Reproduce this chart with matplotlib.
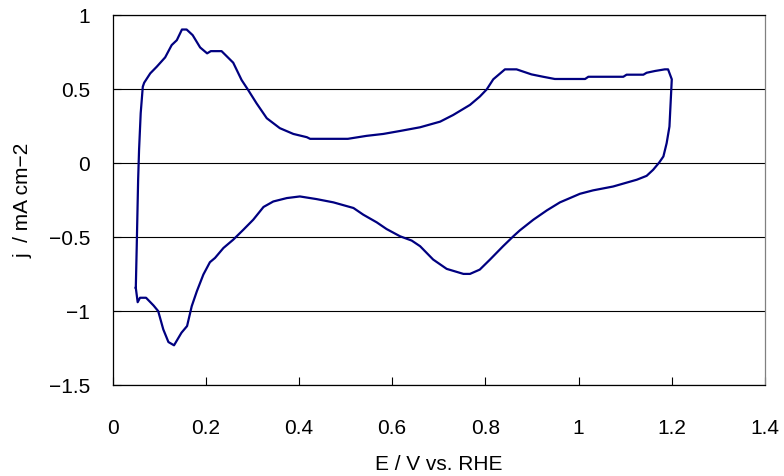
import matplotlib.pyplot as plt
import numpy as np

plt.rcParams['font.family'] = ['Liberation Sans', 'DejaVu Sans']

# Cyclic voltammogram: potential (V vs. RHE) and current density (mA cm-2), one closed loop
potencial = [0.050, 0.052, 0.055, 0.057, 0.0605, 0.065, 0.068, 0.081, 0.095, 0.113,
             0.127, 0.138, 0.149, 0.159, 0.172, 0.188, 0.203, 0.211, 0.234, 0.259,
             0.277, 0.291, 0.309, 0.331, 0.359, 0.388, 0.417, 0.424, 0.505, 0.545,
             0.581, 0.617, 0.660, 0.703, 0.731, 0.767, 0.788, 0.803, 0.817, 0.842,
             0.867, 0.899, 0.924, 0.949, 1.014, 1.021, 1.096, 1.103, 1.139, 1.146,
             1.164, 1.185, 1.192, 1.200, 1.195, 1.189, 1.182, 1.173, 1.160, 1.146,
             1.125, 1.074, 1.031, 1.003, 0.960, 0.932, 0.903, 0.874, 0.860, 0.838,
             0.810, 0.788, 0.767, 0.753, 0.717, 0.688, 0.660, 0.642, 0.617, 0.588,
             0.567, 0.538, 0.517, 0.474, 0.438, 0.402, 0.374, 0.345, 0.324, 0.302,
             0.281, 0.259, 0.238, 0.220, 0.209, 0.195, 0.181, 0.170, 0.160, 0.148,
             0.132, 0.120, 0.109, 0.098, 0.088, 0.072, 0.059, 0.054, 0.050]
corriente = [-0.844, -0.563, -0.114, 0.088, 0.335, 0.514, 0.541, 0.604, 0.649, 0.712,
             0.795, 0.828, 0.900, 0.900, 0.862, 0.779, 0.739, 0.754, 0.754, 0.676,
             0.559, 0.492, 0.402, 0.301, 0.234, 0.195, 0.173, 0.162, 0.162, 0.182,
             0.195, 0.215, 0.240, 0.278, 0.323, 0.391, 0.447, 0.496, 0.564, 0.631,
             0.631, 0.597, 0.581, 0.566, 0.566, 0.581, 0.581, 0.595, 0.595, 0.608,
             0.620, 0.631, 0.631, 0.564, 0.245, 0.133, 0.043, 0.002, -0.047, -0.088,
             -0.114, -0.160, -0.186, -0.209, -0.267, -0.321, -0.384, -0.456, -0.496, -0.563,
             -0.653, -0.721, -0.750, -0.750, -0.716, -0.653, -0.563, -0.525, -0.496, -0.447,
             -0.402, -0.350, -0.305, -0.267, -0.245, -0.227, -0.238, -0.261, -0.298, -0.384,
             -0.451, -0.519, -0.575, -0.642, -0.671, -0.754, -0.867, -0.968, -1.102, -1.147,
             -1.232, -1.210, -1.125, -1.001, -0.963, -0.911, -0.911, -0.941, -0.844]

xticks = [0, 0.2, 0.4, 0.6, 0.8, 1.0, 1.2, 1.4]
xlabels = ['0', '0.2', '0.4', '0.6', '0.8', '1', '1.2', '1.4']
yticks = [-1.5, -1.0, -0.5, 0, 0.5, 1.0]
ylabels = ['\u22121.5', '\u22121', '\u22120.5', '0', '0.5', '1']

fig = plt.figure(figsize=(7.84, 4.77), dpi=100)
ax = fig.add_axes([112.5 / 784, 1 - 386 / 477, (765 - 112.5) / 784, (386 - 15.7) / 477])

ax.plot(potencial, corriente, color='#000080', linewidth=1.6)

ax.set_xlim(0, 1.4)
ax.set_ylim(-1.5, 1.0)
ax.set_xticks(xticks)
ax.set_xticklabels(xlabels)
ax.set_yticks(yticks)
ax.set_yticklabels(ylabels)

# horizontal grid in black, no vertical grid
ax.yaxis.grid(True, color='black', linewidth=0.8)
ax.set_axisbelow(True)

ax.tick_params(axis='both', direction='in', length=6, width=0.8, labelsize=15, colors='black')
ax.tick_params(axis='x', pad=24)
ax.tick_params(axis='y', pad=16)

for lado in ['left', 'bottom', 'top']:
    ax.spines[lado].set_color('black')
    ax.spines[lado].set_linewidth(0.9)
ax.spines['right'].set_color('#808080')
ax.spines['right'].set_linewidth(0.9)

ax.set_xlabel('E / V vs. RHE', fontsize=15, labelpad=12)
ax.set_ylabel('j  / mA cm\u22122', fontsize=15, labelpad=12)
ax.yaxis.set_label_coords(-0.123, 0.5)

plt.savefig('out.png', dpi=100)
